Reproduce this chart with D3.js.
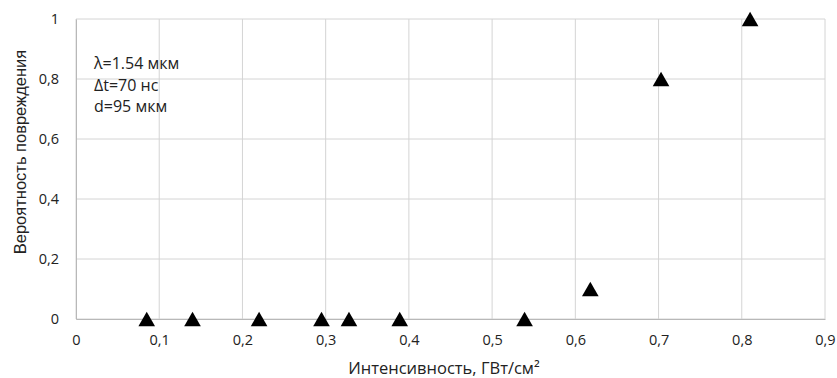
<!DOCTYPE html>
<html>
<head>
<meta charset="utf-8">
<script src="https://cdn.jsdelivr.net/npm/d3@7"></script>
<style>
  body { margin: 0; background: #fff; }
  text { font-family: "Open Sans", sans-serif; fill: #222; }
</style>
</head>
<body>
<div id="chart"></div>
<script>
// intensity, GW/cm2
var intensity = [0.085, 0.14, 0.22, 0.295, 0.328, 0.389, 0.539, 0.618, 0.703, 0.81];
// damage probability
var probability = [0, 0, 0, 0, 0, 0, 0, 0.1, 0.8, 1];

var xTicks = [0, 0.1, 0.2, 0.3, 0.4, 0.5, 0.6, 0.7, 0.8, 0.9];
var yTicks = [0, 0.2, 0.4, 0.6, 0.8, 1];
var notes = ['λ=1.54 мкм', 'Δt=70 нс', 'd=95 мкм'];

var svgSize = {
    width: 837,
    height: 378,
    margin: {top: 19, right: 12, bottom: 59, left: 76}
};

var width = svgSize.width - svgSize.margin.left - svgSize.margin.right;
var height = svgSize.height - svgSize.margin.top - svgSize.margin.bottom;

var svg = d3.select('#chart').append('svg')
    .attr('width', svgSize.width)
    .attr('height', svgSize.height);
var g = svg.append('g')
    .attr('transform', 'translate(' + svgSize.margin.left + ',' + svgSize.margin.top + ')');

var x = d3.scaleLinear().domain([0, 0.9]).range([0, width]);
var y = d3.scaleLinear().domain([0, 1]).range([height, 0]);

var fmt = function(d) { return String(d).replace('.', ','); };

// grid
g.append('g').selectAll('line').data(xTicks).enter().append('line')
    .attr('x1', function(d) { return x(d); })
    .attr('x2', function(d) { return x(d); })
    .attr('y1', 0).attr('y2', height)
    .attr('stroke', '#d4d4d4').attr('stroke-width', 1);
g.append('g').selectAll('line').data(yTicks).enter().append('line')
    .attr('x1', 0).attr('x2', width)
    .attr('y1', function(d) { return y(d); })
    .attr('y2', function(d) { return y(d); })
    .attr('stroke', '#d4d4d4').attr('stroke-width', 1);

// axes
var xAxis = g.append('g').attr('transform', 'translate(0,' + height + ')')
    .call(d3.axisBottom(x).tickValues(xTicks).tickFormat(fmt).tickSize(0).tickPadding(16));
var yAxis = g.append('g')
    .call(d3.axisLeft(y).tickValues(yTicks).tickFormat(fmt).tickSize(0).tickPadding(17));
[xAxis, yAxis].forEach(function(a) {
    a.select('.domain').attr('stroke', '#b8b8b8');
    a.selectAll('text').style('font-size', '14.5px').style('font-family', '"Open Sans", sans-serif').attr('fill', '#1a1a1a');
});

// points (nudged so the triangle box sits centred on the value)
g.append('g').selectAll('path').data(intensity).enter().append('path')
    .attr('d', d3.symbol().type(d3.symbolTriangle).size(120))
    .attr('transform', function(d, i) { return 'translate(' + x(d) + ',' + (y(probability[i]) + 2.4) + ')'; })
    .attr('fill', '#000');

// notes
g.append('g').selectAll('text').data(notes).enter().append('text')
    .attr('x', 18)
    .attr('y', function(d, i) { return 50 + i * 21.5; })
    .style('font-size', '16px')
    .text(function(d) { return d; });

// axis titles
svg.append('text')
    .attr('x', 444).attr('y', 374)
    .attr('text-anchor', 'middle')
    .style('font-size', '16.5px')
    .text('Интенсивность, ГВт/см²');
svg.append('text')
    .attr('transform', 'translate(26,152) rotate(-90)')
    .attr('text-anchor', 'middle')
    .style('font-size', '16.5px')
    .style('font-family', '"Liberation Sans", Arial, sans-serif')
    .text('Вероятность повреждения');
</script>
</body>
</html>
